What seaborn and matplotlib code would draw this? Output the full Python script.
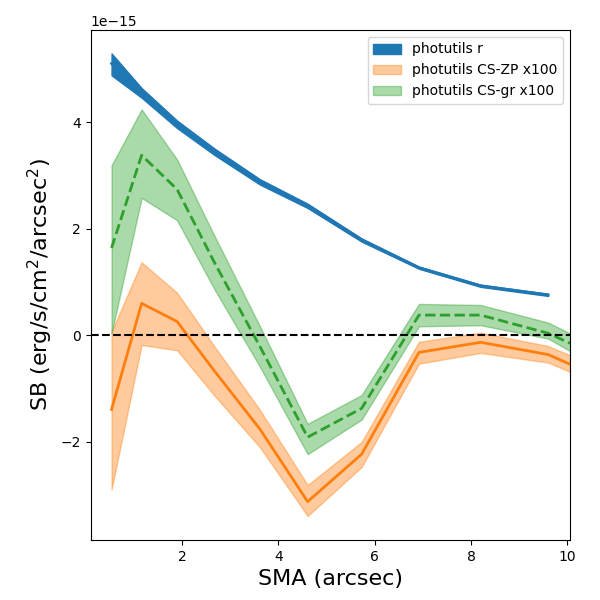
import numpy as np
import pandas as pd
import matplotlib
matplotlib.use("Agg")
import matplotlib.pyplot as plt
import seaborn as sns

# SMA (arcsec)
sma = [0.54, 1.164, 1.90, 2.685, 3.62, 4.61, 5.73, 6.92, 8.20, 9.60, 11.1]

# photutils r (units of 1e-15)
r_val = [5.10, 4.55, 3.96, 3.44, 2.88, 2.43, 1.79, 1.27, 0.93, 0.76]
r_lo = [4.88, 4.46, 3.89, 3.38, 2.83, 2.39, 1.76, 1.25, 0.91, 0.74]
r_hi = [5.29, 4.64, 4.03, 3.50, 2.93, 2.47, 1.82, 1.29, 0.95, 0.78]

# photutils CS-ZP x100 (units of 1e-15)
zp_val = [-1.39, 0.60, 0.26, -0.68, -1.76, -3.12, -2.23, -0.32, -0.13, -0.36, -0.96]
zp_lo = [-2.89, -0.18, -0.28, -1.14, -2.10, -3.39, -2.47, -0.53, -0.33, -0.51, -1.08]
zp_hi = [0.07, 1.37, 0.80, -0.22, -1.40, -2.81, -2.00, -0.12, 0.05, -0.20, -0.77]

# photutils CS-gr x100 (units of 1e-15)
gr_val = [1.64, 3.38, 2.74, 1.35, -0.21, -1.91, -1.37, 0.38, 0.38, 0.04, -0.58]
gr_lo = [0.04, 2.58, 2.16, 0.85, -0.59, -2.23, -1.58, 0.17, 0.19, -0.06, -0.83]
gr_hi = [3.19, 4.24, 3.30, 1.85, 0.17, -1.66, -1.12, 0.59, 0.57, 0.24, -0.43]

labels = ["photutils r", "photutils CS-ZP x100", "photutils CS-gr x100"]

scale = 1e-15
n_r = len(r_val)
df_r = pd.DataFrame({"sma": sma[:n_r], "val": np.array(r_val) * scale,
                     "lo": np.array(r_lo) * scale, "hi": np.array(r_hi) * scale})
df_zp = pd.DataFrame({"sma": sma, "val": np.array(zp_val) * scale,
                      "lo": np.array(zp_lo) * scale, "hi": np.array(zp_hi) * scale})
df_gr = pd.DataFrame({"sma": sma, "val": np.array(gr_val) * scale,
                      "lo": np.array(gr_lo) * scale, "hi": np.array(gr_hi) * scale})

fig, ax = plt.subplots(figsize=(6, 6), dpi=100)
fig.subplots_adjust(left=0.151, right=0.95, top=0.95, bottom=0.1)

ax.fill_between(df_r["sma"], df_r["lo"], df_r["hi"], color="C0", alpha=1.0, label=labels[0])
sns.lineplot(data=df_r, x="sma", y="val", color="C0", lw=2, ax=ax, legend=False)

ax.fill_between(df_zp["sma"], df_zp["lo"], df_zp["hi"], color="C1", alpha=0.4, label=labels[1])
sns.lineplot(data=df_zp, x="sma", y="val", color="C1", lw=2, ax=ax, legend=False)

ax.fill_between(df_gr["sma"], df_gr["lo"], df_gr["hi"], color="C2", alpha=0.4, label=labels[2])
sns.lineplot(data=df_gr, x="sma", y="val", color="C2", lw=2, ls="--", ax=ax, legend=False)

ax.axhline(0, color="k", ls="--", lw=1.5)

ax.set_xlim(0.105, 10.055)
ax.set_ylim(-3.84e-15, 5.73e-15)
ax.set_xlabel("SMA (arcsec)", fontsize=16)
ax.set_ylabel("SB (erg/s/cm$^2$/arcsec$^2$)", fontsize=16)
ax.legend(loc="upper right")

fig.savefig("out.png", dpi=100)
